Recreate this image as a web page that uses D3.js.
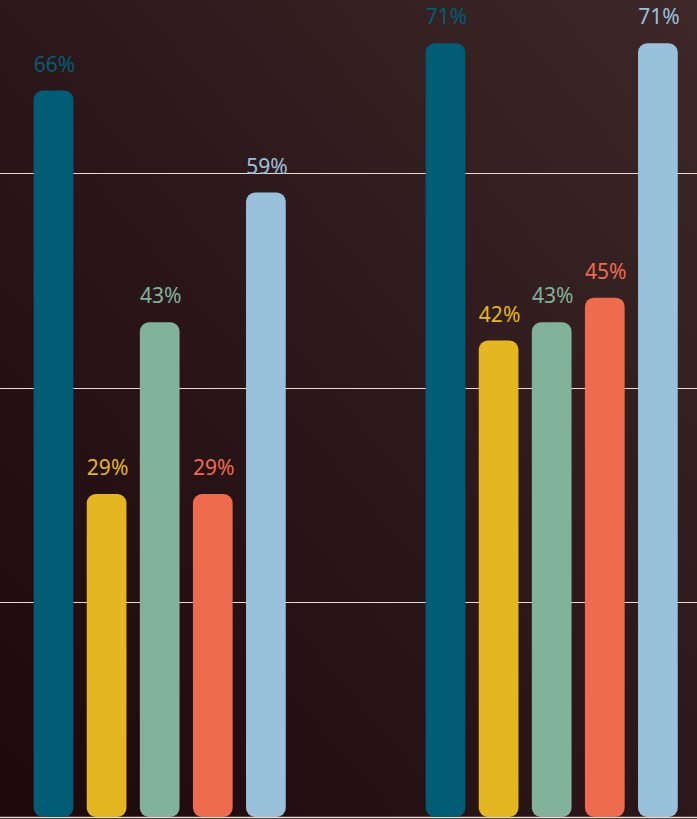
<!DOCTYPE html>
<html><head><meta charset="utf-8">
<script src="https://cdn.jsdelivr.net/npm/d3@7"></script>
<style>html,body{margin:0;padding:0;background:#230f11;overflow:hidden}</style>
</head><body>
<svg id="c" width="697" height="819"></svg>
<script>
const groups = ["A", "B"];
const series = ["s1", "s2", "s3", "s4", "s5"];
const colors = ["#015c75", "#e4b722", "#82b29a", "#ee6b4e", "#9ac1db"];
// bar heights (percent units on the grid)
const valuesA = [67.7, 30.1, 46.1, 30.1, 58.2];
const valuesB = [72.1, 44.4, 46.1, 48.4, 72.1];
// labels as printed on the picture
const labelsA = ["66%", "29%", "43%", "29%", "59%"];
const labelsB = ["71%", "42%", "43%", "45%", "71%"];
const gridTicks = [0, 20, 40, 60];

const W = 697, H = 819;
const svg = d3.select("#c");
const defs = svg.append("defs");
const g = defs.append("linearGradient").attr("id","bg")
  .attr("x1","100%").attr("y1","0%").attr("x2","0%").attr("y2","100%");
g.append("stop").attr("offset","0%").attr("stop-color","#3d2729");
g.append("stop").attr("offset","45%").attr("stop-color","#2d191b");
g.append("stop").attr("offset","100%").attr("stop-color","#1d090b");
svg.append("rect").attr("width",W).attr("height",H).attr("fill","url(#bg)");

const y = d3.scaleLinear().domain([0, 20]).range([817, 602.4]);
const x0 = d3.scalePoint().domain(groups).range([159.7, 551.7]);
const x1 = d3.scaleBand().domain(series).range([-126.05, 126.05]).paddingInner(0.252).paddingOuter(0);

svg.append("g").selectAll("line").data(gridTicks).join("line")
  .attr("x1",0).attr("x2",W)
  .attr("y1",d=>Math.round(y(d))+0.5).attr("y2",d=>Math.round(y(d))+0.5)
  .attr("stroke","#e6dbcf").attr("stroke-width",d=>d===0?1.6:1);

const data = [];
groups.forEach((gr, gi) => {
  const vals = gi === 0 ? valuesA : valuesB;
  const labs = gi === 0 ? labelsA : labelsB;
  series.forEach((s, si) => data.push({g: gr, s, v: vals[si], label: labs[si], c: colors[si]}));
});

const bw = x1.bandwidth();
const r = 9;
const bars = svg.append("g");
bars.selectAll("rect").data(data).join("rect")
  .attr("x", d => x0(d.g) + x1(d.s))
  .attr("y", d => y(d.v))
  .attr("width", bw)
  .attr("height", d => y(0) - y(d.v))
  .attr("rx", r).attr("ry", r)
  .attr("fill", d => d.c);

svg.append("g").selectAll("text").data(data).join("text")
  .attr("x", d => x0(d.g) + x1(d.s) + bw/2 + 1)
  .attr("y", d => y(d.v) - 19)
  .attr("text-anchor","middle")
  .attr("font-family","'Noto Sans', 'Open Sans', sans-serif")
  .attr("font-size", 21)
  .attr("fill", d => d.c)
  .text(d => d.label);
</script>
</body></html>
